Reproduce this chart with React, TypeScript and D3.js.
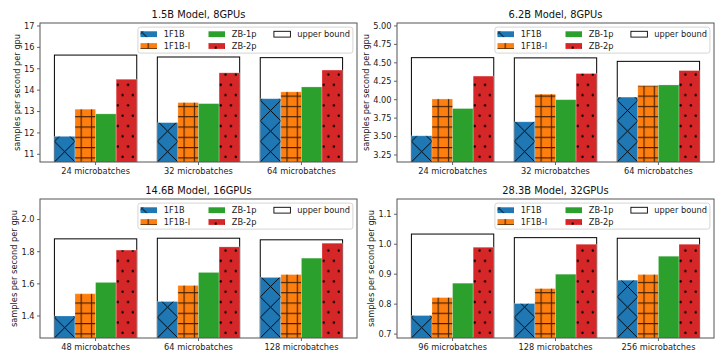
import React from "react";
import * as d3 from "d3";

const W = 723;
const H = 362;
const FS = 8.24;

const titles = ["1.5B Model, 8GPUs", "6.2B Model, 8GPUs", "14.6B Model, 16GPUs", "28.3B Model, 32GPUs"];
const microbatches = [
  ["24 microbatches", "32 microbatches", "64 microbatches"],
  ["24 microbatches", "32 microbatches", "64 microbatches"],
  ["48 microbatches", "64 microbatches", "128 microbatches"],
  ["96 microbatches", "128 microbatches", "256 microbatches"],
];
const seriesNames = ["1F1B", "1F1B-I", "ZB-1p", "ZB-2p"];
const v1F1B = [[11.84, 12.48, 13.6], [3.51, 3.7, 4.035], [1.4, 1.49, 1.64], [0.762, 0.802, 0.88]];
const v1F1BI = [[13.11, 13.42, 13.92], [4.01, 4.075, 4.19], [1.538, 1.59, 1.658], [0.822, 0.852, 0.899]];
const vZB1p = [[12.89, 13.37, 14.15], [3.88, 4.0, 4.2], [1.609, 1.671, 1.76], [0.87, 0.9, 0.96]];
const vZB2p = [[14.51, 14.81, 14.94], [4.32, 4.355, 4.395], [1.81, 1.83, 1.853], [0.99, 1.0, 1.0]];
const upperBound = [[15.64, 15.55, 15.52], [4.57, 4.567, 4.52], [1.88, 1.884, 1.874], [1.034, 1.022, 1.02]];
const yTicks = [
  [11, 12, 13, 14, 15, 16, 17],
  [3.25, 3.5, 3.75, 4.0, 4.25, 4.5, 4.75, 5.0],
  [1.4, 1.6, 1.8, 2.0],
  [0.7, 0.8, 0.9, 1.0, 1.1],
];
const tickDecimals = [0, 2, 1, 1];
const yDomains = [[10.64, 17.14], [3.155, 5.04], [1.263, 2.128], [0.687, 1.151]];
const yLabel = "samples per second per gpu";
const upperLabel = "upper bound";

const seriesValues = [v1F1B, v1F1BI, vZB1p, vZB2p];
const colors = ["#1f77b4", "#ff7f0e", "#2ca02c", "#d62728"];
const hatchKinds = ["x", "+", "", "."];
const offsets = [-0.3, -0.1, 0.1, 0.3];

const layout = [
  { x0: 40, x1: 357, y0: 23, y1: 162 },
  { x0: 397, x1: 714, y0: 23, y1: 162 },
  { x0: 40, x1: 357, y0: 199, y1: 338 },
  { x0: 397, x1: 714, y0: 199, y1: 338 },
];

function textW(s: string) {
  let w = 0;
  for (const c of s) w += c === "." ? 0.318 : 0.636;
  return w * FS;
}

function Panel({ i }: { i: number }) {
  const L = layout[i];
  const w = L.x1 - L.x0;
  const h = L.y1 - L.y0;
  const x = d3.scaleLinear().domain([-0.54, 2.54]).range([0, w]);
  const y = d3.scaleLinear().domain(yDomains[i]).range([h, 0]);
  const P = x(0.2) - x(0);
  const ox = x(-0.4);
  const fmt = d3.format(`.${tickDecimals[i]}f`);
  const tickLabels = yTicks[i].map((t) => fmt(t));
  const maxW = Math.max(...tickLabels.map(textW));
  const ylabX = -5.5 - maxW - 3.3 - FS * 0.45;
  const fillFor = (k: number) => {
    const kind = hatchKinds[k];
    if (kind === "x") return `url(#hx${i})`;
    if (kind === "+") return `url(#hp${i})`;
    if (kind === ".") return `url(#hd${i})`;
    return null;
  };
  const legW = 215;
  const legH = 26;
  const lx = w - 4.1 - legW;
  const ly = 4.1;
  const rowY = [7.1, 18.9];
  const colX = [2.6, 70.6, 136];
  const hw = 16.5;
  const hh = 5.8;
  const legendItems = [
    { k: 0, c: 0, r: 0 },
    { k: 1, c: 0, r: 1 },
    { k: 2, c: 1, r: 0 },
    { k: 3, c: 1, r: 1 },
  ];
  return (
    <g transform={`translate(${L.x0},${L.y0})`}>
      <defs>
        <clipPath id={`clip${i}`}>
          <rect x={0} y={0} width={w} height={h} />
        </clipPath>
        <pattern id={`hx${i}`} patternUnits="userSpaceOnUse" x={ox} y={h} width={P} height={P}>
          <path d={`M0,0L${P},${P}M${P},0L0,${P}`} stroke="#000" strokeWidth={0.95} fill="none" />
        </pattern>
        <pattern id={`hp${i}`} patternUnits="userSpaceOnUse" x={ox} y={h} width={P / 2} height={P / 2}>
          <path d={`M${0.3 * P},0V${P / 2}M0,${0.3 * P}H${P / 2}`} stroke="#000" strokeOpacity={0.75} strokeWidth={1.1} fill="none" />
        </pattern>
        <pattern id={`hd${i}`} patternUnits="userSpaceOnUse" x={ox} y={h} width={P / 2} height={P}>
          <circle cx={0.08 * P} cy={0.25 * P} r={1.15} fill="#000" />
          <circle cx={0.31 * P} cy={0.75 * P} r={1.15} fill="#000" />
        </pattern>
      </defs>
      <text x={w / 2} y={-5} textAnchor="middle" fontSize={9.9} fill="#111">{titles[i]}</text>
      <g clipPath={`url(#clip${i})`}>
        {upperBound[i].map((v, g) => (
          <rect key={`ub${g}`} x={x(g - 0.4)} y={y(v)} width={x(g + 0.4) - x(g - 0.4)} height={h - y(v) + 2}
            fill="none" stroke="#000" strokeWidth={1} />
        ))}
        {seriesValues.map((vals, k) =>
          vals[i].map((v, g) => {
            const bx = x(g + offsets[k] - 0.1);
            const bw = x(g + offsets[k] + 0.1) - bx;
            const by = y(v);
            const bh = h - by + 2;
            const hf = fillFor(k);
            return (
              <g key={`b${k}-${g}`}>
                <rect x={bx} y={by} width={bw} height={bh} fill={colors[k]} />
                {hf && <rect x={bx} y={by} width={bw} height={bh} fill={hf} />}
                <rect x={bx} y={by} width={bw} height={bh} fill="none" stroke="#fff" strokeOpacity={0.35} strokeWidth={0.7} />
              </g>
            );
          })
        )}
      </g>
      <rect x={0} y={0} width={w} height={h} fill="none" stroke="#555" strokeWidth={1} />
      {yTicks[i].map((t, j) => (
        <g key={`yt${j}`} transform={`translate(0,${y(t)})`}>
          <line x1={-3} x2={0} stroke="#555" strokeWidth={0.9} />
          <text x={-5.5} dy="0.35em" textAnchor="end" fontSize={FS} fill="#222">{tickLabels[j]}</text>
        </g>
      ))}
      {microbatches[i].map((m, g) => (
        <g key={`xt${g}`} transform={`translate(${x(g)},${h})`}>
          <line y1={0} y2={3} stroke="#555" strokeWidth={0.9} />
          <text y={12.3} textAnchor="middle" fontSize={FS} fill="#222">{m}</text>
        </g>
      ))}
      <text transform={`translate(${ylabX},${h / 2}) rotate(-90)`} textAnchor="middle" dy="0.35em" fontSize={FS} fill="#222">{yLabel}</text>
      <g transform={`translate(${lx},${ly})`}>
        <rect x={0} y={0} width={legW} height={legH} rx={2.5} fill="#fff" fillOpacity={0.85} stroke="#cccccc" strokeWidth={0.8} />
        {legendItems.map((it) => {
          const hx = colX[it.c];
          const hy = rowY[it.r];
          const hf = fillFor(it.k);
          return (
            <g key={`lg${it.k}`}>
              <rect x={hx} y={hy - hh / 2} width={hw} height={hh} fill={colors[it.k]} />
              {hf && <rect x={hx} y={hy - hh / 2} width={hw} height={hh} fill={hf} />}
              <text x={hx + 23.3} y={hy} dy="0.35em" fontSize={FS} fill="#222">{seriesNames[it.k]}</text>
            </g>
          );
        })}
        <rect x={colX[2]} y={rowY[0] - hh / 2} width={hw} height={hh} fill="#fff" stroke="#000" strokeWidth={0.9} />
        <text x={colX[2] + 23.3} y={rowY[0]} dy="0.35em" fontSize={FS} fill="#222">{upperLabel}</text>
      </g>
    </g>
  );
}

export default function App() {
  return (
    <svg width={W} height={H} viewBox={`0 0 ${W} ${H}`}
      style={{ position: "absolute", left: 0, top: 0, background: "#fff" }}
      fontFamily="'DejaVu Sans', sans-serif">
      <rect x={0} y={0} width={W} height={H} fill="#fff" />
      {layout.map((_, i) => <Panel key={i} i={i} />)}
    </svg>
  );
}
